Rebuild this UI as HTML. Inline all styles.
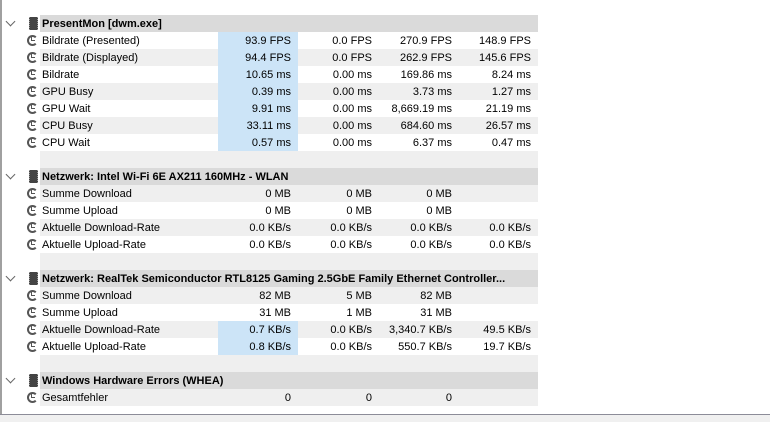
<!DOCTYPE html>
<html><head><meta charset="utf-8"><style>
body{margin:0;width:770px;height:422px;background:#fff;overflow:hidden;position:relative;font-family:"Liberation Sans",Tahoma,sans-serif;font-size:11px;color:#000}
#lb{position:absolute;left:0;top:0;width:2px;height:414px;background:#a0a0a0}
#bot{position:absolute;left:0;top:414px;width:770px;height:1px;background:#8c8c98}
#botbg{position:absolute;left:0;top:415px;width:770px;height:7px;background:#f0f0f0}
.row{position:absolute;left:0;width:538px;height:17px;line-height:19px}
.bg{position:absolute;left:40px;top:0;width:498px;height:17px}
.g .bg{background:#efefef}
.h .bg{background:#dadada}
.nm{position:absolute;left:42px;top:0;white-space:nowrap}
.h .nm{font-weight:bold}
.v{position:absolute;top:0;text-align:right;white-space:nowrap}
.v1{left:218px;width:73px;padding-right:7px;height:17px}
.v1.b{background:#cce4f7}
.v2{left:298px;width:74px}
.v3{left:378px;width:74px}
.v4{left:458px;width:73px}
.ico{position:absolute;left:27px;top:3px;width:11px;height:11px;border:2px solid #555;border-radius:50%;box-sizing:border-box;border-right-color:transparent}
.ico:after{content:"";position:absolute;left:2px;top:0px;width:3px;height:3px;border-left:1px solid #555;border-bottom:1px solid #555}
.chip{position:absolute;left:29px;top:2px;width:7px;height:13px;background:#444;border-left:1px dotted #999;border-right:1px dotted #999}
.chev{position:absolute;left:7px;top:3px;width:6px;height:6px;border-right:1px solid #666;border-bottom:1px solid #666;transform:rotate(45deg)}
</style></head><body>
<div id="lb"></div>
<div id="tbl"></div>
<div id="bot"></div>
<div id="botbg"></div>
<script>
const rows=[
["h","PresentMon [dwm.exe]"],
["r","Bildrate (Presented)","93.9 FPS","0.0 FPS","270.9 FPS","148.9 FPS",1],
["r","Bildrate (Displayed)","94.4 FPS","0.0 FPS","262.9 FPS","145.6 FPS",1],
["r","Bildrate","10.65 ms","0.00 ms","169.86 ms","8.24 ms",1],
["r","GPU Busy","0.39 ms","0.00 ms","3.73 ms","1.27 ms",1],
["r","GPU Wait","9.91 ms","0.00 ms","8,669.19 ms","21.19 ms",1],
["r","CPU Busy","33.11 ms","0.00 ms","684.60 ms","26.57 ms",1],
["r","CPU Wait","0.57 ms","0.00 ms","6.37 ms","0.47 ms",1],
["e"],
["h","Netzwerk: Intel Wi-Fi 6E AX211 160MHz - WLAN"],
["r","Summe Download","0 MB","0 MB","0 MB",""],
["r","Summe Upload","0 MB","0 MB","0 MB",""],
["r","Aktuelle Download-Rate","0.0 KB/s","0.0 KB/s","0.0 KB/s","0.0 KB/s"],
["r","Aktuelle Upload-Rate","0.0 KB/s","0.0 KB/s","0.0 KB/s","0.0 KB/s"],
["e"],
["h","Netzwerk: RealTek Semiconductor RTL8125 Gaming 2.5GbE Family Ethernet Controller..."],
["r","Summe Download","82 MB","5 MB","82 MB",""],
["r","Summe Upload","31 MB","1 MB","31 MB",""],
["r","Aktuelle Download-Rate","0.7 KB/s","0.0 KB/s","3,340.7 KB/s","49.5 KB/s",1],
["r","Aktuelle Upload-Rate","0.8 KB/s","0.0 KB/s","550.7 KB/s","19.7 KB/s",1],
["e"],
["h","Windows Hardware Errors (WHEA)"],
["r","Gesamtfehler","0","0","0",""]
];
const tbl=document.getElementById('tbl');
rows.forEach((r,i)=>{
  const d=document.createElement('div');
  d.className='row'+(r[0]==='h'?' h':(i%2===0?' g':''));
  d.style.top=(15+i*17)+'px';
  
  
  let h='<div class="bg"></div>';
  if(r[0]==='h'){h+='<div class="chev"></div><div class="chip"></div><div class="nm">'+r[1]+'</div>';}
  else if(r[0]==='r'){
    h+='<div class="ico"></div><div class="nm">'+r[1]+'</div>';
    h+='<div class="v v1'+(r[6]?' b':'')+'">'+r[2]+'</div><div class="v v2">'+r[3]+'</div><div class="v v3">'+r[4]+'</div><div class="v v4">'+r[5]+'</div>';
  }
  d.innerHTML=h;
  tbl.appendChild(d);
});
</script>
</body></html>
